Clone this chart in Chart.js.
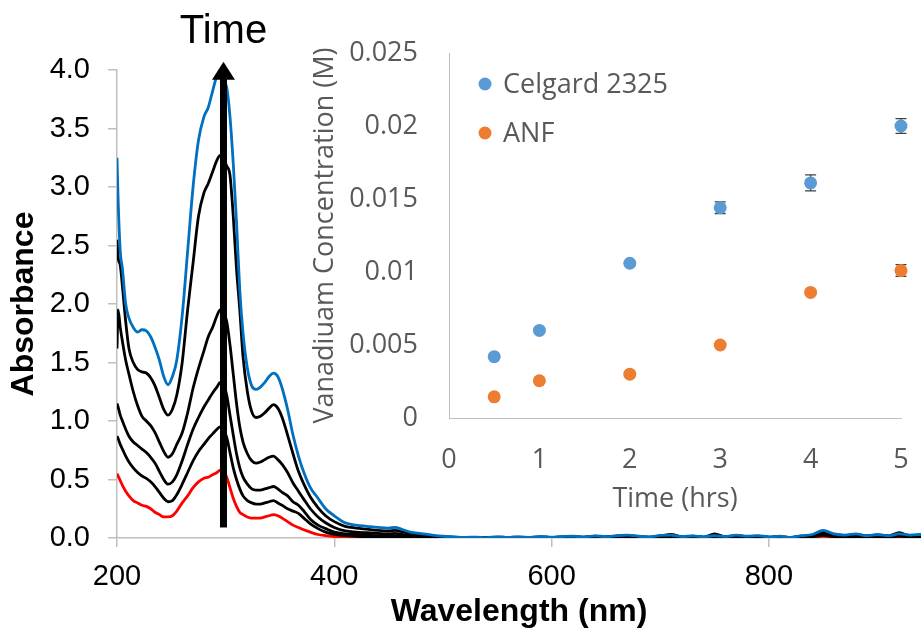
<!DOCTYPE html>
<html>
<head>
<meta charset="utf-8">
<script src="https://cdn.jsdelivr.net/npm/chart.js@4.4.1/dist/chart.umd.min.js"></script>
<style>
  html, body { margin: 0; padding: 0; background: #fff; }
  #wrap { position: relative; width: 921px; height: 634px; }
  #wrap canvas { position: absolute; left: 0; top: 0; }
</style>
</head>
<body>
<div id="wrap">
  <canvas id="spectra" width="921" height="634"></canvas>
  <canvas id="inset" width="921" height="634"></canvas>
</div>
<script>
// ---- main plot: UV-vis spectra ----
var wavelength = [200,201,203,205,208,211,215,219,223,227,231,235,239,243,247,251,255,260,265,270,275,280,284,288,292,295,298,301,304,307,310,313,316,320,324,328,332,336,340,344,348,352,357,362,367,372,378,385,392,400,410,420,430,440,450,456,462,470,480,490,500,
  510,520,530,540,550,560,570,580,590,600,610,620,630,640,650,660,670,680,690,700,710,720,730,740,750,760,770,780,790,800,810,820,830,840,850,860,870,880,890,900,910,920,930,940];

var absBlue = [3.25,2.9,2.45,2.3,2.0,1.88,1.8,1.76,1.78,1.77,1.72,1.63,1.52,1.38,1.31,1.38,1.52,1.9,2.45,3.0,3.4,3.6,3.68,3.82,3.95,3.97,3.92,3.85,3.6,3.2,2.7,2.12,1.75,1.45,1.3,1.27,1.29,1.33,1.38,1.41,1.38,1.28,1.1,0.88,0.7,0.56,0.43,0.34,0.25,0.19,0.13,0.11,0.1,0.09,0.085,0.09,0.075,0.05,0.038,0.025,0.015,
  0.01,0.005,0.008,0.004,0.01,0.006,0.01,0.005,0.012,0.008,0.012,0.015,0.01,0.018,0.012,0.02,0.025,0.015,0.01,0.022,0.025,0.012,0.018,0.01,0.02,0.012,0.025,0.015,0.02,0.01,0.015,0.005,0.02,0.03,0.065,0.035,0.025,0.035,0.02,0.03,0.02,0.035,0.025,0.03];

var absBlack1 = [2.55,2.4,2.33,2.15,1.85,1.62,1.5,1.44,1.42,1.41,1.37,1.3,1.2,1.1,1.05,1.1,1.22,1.5,1.95,2.35,2.75,2.95,3.03,3.13,3.23,3.27,3.24,3.18,3.1,2.75,2.3,1.95,1.55,1.25,1.08,1.03,1.04,1.07,1.11,1.14,1.11,1.03,0.88,0.72,0.57,0.46,0.35,0.26,0.19,0.14,0.1,0.085,0.075,0.065,0.06,0.065,0.055,0.04,0.03,0.018,0.01,
  0.008,0.004,0.006,0.003,0.008,0.005,0.008,0.004,0.01,0.006,0.01,0.012,0.008,0.015,0.01,0.016,0.02,0.012,0.008,0.018,0.03,0.01,0.015,0.008,0.035,0.01,0.02,0.012,0.016,0.008,0.012,0.004,0.016,0.025,0.05,0.03,0.02,0.03,0.018,0.025,0.018,0.045,0.02,0.028];

var absBlack2 = [1.62,1.95,1.8,1.68,1.52,1.4,1.25,1.13,1.04,1.0,0.96,0.9,0.82,0.74,0.69,0.72,0.8,0.9,1.07,1.28,1.45,1.6,1.72,1.8,1.9,1.95,1.93,1.85,1.65,1.4,1.15,0.95,0.82,0.72,0.66,0.64,0.65,0.67,0.69,0.7,0.67,0.63,0.56,0.47,0.4,0.33,0.25,0.18,0.13,0.09,0.06,0.05,0.045,0.04,0.035,0.04,0.03,0.02,0.015,0.01,0.005,
  0.006,0.003,0.005,0.002,0.006,0.004,0.006,0.003,0.008,0.005,0.008,0.01,0.006,0.012,0.008,0.013,0.016,0.01,0.006,0.014,0.02,0.008,0.012,0.006,0.022,0.008,0.016,0.01,0.013,0.006,0.01,0.003,0.013,0.02,0.04,0.024,0.016,0.024,0.014,0.02,0.014,0.03,0.016,0.022];

var absBlack3 = [1.15,1.12,1.05,1.0,0.93,0.87,0.82,0.79,0.76,0.73,0.69,0.64,0.57,0.5,0.46,0.48,0.54,0.66,0.8,0.93,1.03,1.12,1.18,1.24,1.29,1.33,1.31,1.22,1.05,0.88,0.72,0.6,0.52,0.46,0.42,0.41,0.41,0.42,0.43,0.44,0.42,0.39,0.36,0.31,0.28,0.23,0.16,0.11,0.08,0.05,0.035,0.03,0.025,0.02,0.02,0.02,0.015,0.01,0.008,0.005,0.003,
  0.004,0.002,0.004,0.002,0.004,0.003,0.004,0.002,0.006,0.004,0.006,0.008,0.005,0.009,0.006,0.01,0.012,0.008,0.005,0.01,0.014,0.006,0.009,0.005,0.016,0.006,0.012,0.008,0.01,0.005,0.008,0.002,0.01,0.015,0.03,0.018,0.012,0.018,0.01,0.015,0.01,0.022,0.012,0.016];

var absBlack4 = [0.87,0.85,0.8,0.76,0.7,0.65,0.6,0.56,0.53,0.51,0.48,0.44,0.39,0.34,0.31,0.32,0.37,0.46,0.56,0.66,0.74,0.8,0.85,0.89,0.93,0.95,0.93,0.86,0.73,0.6,0.5,0.42,0.36,0.32,0.3,0.29,0.29,0.3,0.31,0.32,0.3,0.28,0.25,0.23,0.21,0.17,0.12,0.08,0.05,0.03,0.02,0.015,0.012,0.01,0.01,0.01,0.008,0.005,0.004,0.003,0.002,
  0.003,0.001,0.003,0.001,0.003,0.002,0.003,0.001,0.004,0.003,0.004,0.006,0.004,0.007,0.004,0.008,0.009,0.006,0.004,0.008,0.01,0.004,0.007,0.004,0.012,0.004,0.009,0.006,0.008,0.004,0.006,0.001,0.008,0.011,0.022,0.013,0.009,0.013,0.008,0.011,0.008,0.016,0.009,0.012];

var absRed = [0.55,0.53,0.49,0.45,0.4,0.36,0.32,0.3,0.28,0.27,0.25,0.22,0.2,0.18,0.18,0.19,0.23,0.3,0.36,0.43,0.48,0.51,0.52,0.54,0.56,0.58,0.57,0.52,0.43,0.34,0.27,0.22,0.2,0.18,0.17,0.17,0.17,0.18,0.19,0.2,0.19,0.17,0.14,0.11,0.09,0.07,0.05,0.03,0.02,0.012,0.008,0.005,0.004,0.003,0.003,0.003,0.002,0.002,0.001,0.001,0,
  0.002,0.001,0.002,0.001,0.002,0.001,0.002,0.001,0.003,0.002,0.003,0.004,0.003,0.005,0.003,0.006,0.007,0.004,0.003,0.006,0.007,0.003,0.005,0.003,0.008,0.003,0.006,0.004,0.006,0.003,0.004,0.001,0.006,0.008,0.015,0.009,0.006,0.009,0.005,0.008,0.005,0.011,0.006,0.008];

var xTicks = [200, 400, 600, 800];
var arrowAt = 298;     // nm
var arrowFrom = 0.09;  // absorbance
var arrowTo = 4.07;

// ---- inset: vanadium crossover ----
var timeHrs = [0.5, 1, 2, 3, 4, 5];
var celgardConc = [0.0042, 0.0060, 0.0106, 0.0144, 0.0161, 0.0200];
var celgardErr = [0.0001, 0.0001, 0.0001, 0.0004, 0.00055, 0.0005];
var anfConc = [0.00145, 0.00255, 0.0030, 0.0050, 0.0086, 0.0101];
var anfErr = [0.0001, 0.0001, 0.0001, 0.0001, 0.0001, 0.0004];

var spectra = [absBlue, absBlack1, absBlack2, absBlack3, absBlack4, absRed];
var spectraColors = ["#0070C0", "#000000", "#000000", "#000000", "#000000", "#FF0000"];

function toPoints(xs, ys) {
  return xs.map(function (x, i) { return { x: x, y: ys[i] }; });
}

var mainFont = "'Liberation Sans', Arial, sans-serif";
var insetFont = "'Open Sans', 'Noto Sans', sans-serif";
var axisGray = "#bfbfbf";
var insetGray = "#595959";

var timeArrow = {
  id: "timeArrow",
  afterDatasetsDraw: function (chart) {
    var ctx = chart.ctx;
    var x = chart.scales.x.getPixelForValue(arrowAt);
    var yBase = chart.scales.y.getPixelForValue(arrowFrom);
    var yTip = chart.scales.y.getPixelForValue(arrowTo);
    ctx.save();
    ctx.fillStyle = "#000";
    ctx.fillRect(x - 3.5, yTip + 15, 7, yBase - yTip - 15);
    ctx.beginPath();
    ctx.moveTo(x, yTip);
    ctx.lineTo(x - 11.5, yTip + 18);
    ctx.lineTo(x + 11.5, yTip + 18);
    ctx.closePath();
    ctx.fill();
    ctx.font = "40px " + mainFont;
    ctx.textAlign = "center";
    ctx.textBaseline = "alphabetic";
    ctx.fillText("Time", x, 43);
    ctx.restore();
  }
};

var spectraChart = new Chart(document.getElementById("spectra"), {
  type: "line",
  data: {
    datasets: spectra.map(function (vals, i) {
      return {
        data: toPoints(wavelength, vals),
        borderColor: spectraColors[i],
        borderWidth: 2.8,
        pointRadius: 0,
        fill: false,
        cubicInterpolationMode: "monotone"
      };
    })
  },
  options: {
    responsive: false,
    animation: false,
    devicePixelRatio: 1,
    layout: { padding: { top: 70, right: 0, bottom: 0, left: 0 } },
    plugins: { legend: { display: false }, tooltip: { enabled: false } },
    scales: {
      x: {
        type: "linear",
        min: 200,
        max: 940,
        afterBuildTicks: function (s) { s.ticks = xTicks.map(function (v) { return { value: v }; }); },
        afterFit: function (s) { s.height = 96; },
        grid: { display: true, drawOnChartArea: false, drawTicks: true, tickLength: 9, color: axisGray, lineWidth: 1.5 },
        border: { color: axisGray, width: 1.5 },
        ticks: { color: "#000", font: { family: mainFont, size: 29 }, padding: 13, maxRotation: 0 },
        title: { display: true, text: "Wavelength (nm)", color: "#000", font: { family: mainFont, size: 32, weight: "bold" }, padding: { top: 0, bottom: 3 } }
      },
      y: {
        min: 0,
        max: 4,
        afterFit: function (s) { s.width = 117; },
        grid: { display: true, drawOnChartArea: false, drawTicks: true, tickLength: 9, color: axisGray, lineWidth: 1.5 },
        border: { color: axisGray, width: 1.5 },
        ticks: {
          stepSize: 0.5,
          color: "#000",
          font: { family: mainFont, size: 29 },
          padding: 18,
          callback: function (v) { return v.toFixed(1); }
        },
        title: { display: true, text: "Absorbance", color: "#000", font: { family: mainFont, size: 32, weight: "bold" }, padding: { top: 5, bottom: 0 } }
      }
    }
  },
  plugins: [timeArrow]
});

var insetErrors = [celgardErr, anfErr];

var errorBars = {
  id: "errorBars",
  beforeDatasetsDraw: function (chart) {
    var ctx = chart.ctx;
    var xs = chart.scales.x, ys = chart.scales.y;
    ctx.save();
    ctx.strokeStyle = "#404040";
    ctx.lineWidth = 1.3;
    chart.data.datasets.forEach(function (ds, d) {
      ds.data.forEach(function (p, i) {
        var e = insetErrors[d][i];
        var x = xs.getPixelForValue(p.x);
        var y1 = ys.getPixelForValue(p.y - e);
        var y2 = ys.getPixelForValue(p.y + e);
        ctx.beginPath();
        ctx.moveTo(x, y1); ctx.lineTo(x, y2);
        ctx.moveTo(x - 5.5, y1); ctx.lineTo(x + 5.5, y1);
        ctx.moveTo(x - 5.5, y2); ctx.lineTo(x + 5.5, y2);
        ctx.stroke();
      });
    });
    ctx.restore();
  }
};

var insetLegend = {
  id: "insetLegend",
  afterDraw: function (chart) {
    var ctx = chart.ctx;
    var a = chart.chartArea;
    ctx.save();
    ctx.font = "27px " + insetFont;
    ctx.textAlign = "left";
    ctx.textBaseline = "middle";
    chart.data.datasets.forEach(function (ds, i) {
      var y = a.top + 31 + i * 49;
      ctx.fillStyle = ds.backgroundColor;
      ctx.beginPath();
      ctx.arc(a.left + 36, y, 6.5, 0, Math.PI * 2);
      ctx.fill();
      ctx.fillStyle = insetGray;
      ctx.fillText(ds.label, a.left + 54, y + 1);
    });
    ctx.restore();
  }
};

var insetChart = new Chart(document.getElementById("inset"), {
  type: "scatter",
  data: {
    datasets: [
      { label: "Celgard 2325", data: toPoints(timeHrs, celgardConc), backgroundColor: "#5B9BD5", borderWidth: 0, pointRadius: 6.5, clip: false },
      { label: "ANF", data: toPoints(timeHrs, anfConc), backgroundColor: "#ED7D31", borderWidth: 0, pointRadius: 6.5, clip: false }
    ]
  },
  options: {
    responsive: false,
    animation: false,
    devicePixelRatio: 1,
    layout: { padding: { top: 53, right: 20, bottom: 100, left: 300 } },
    plugins: { legend: { display: false }, tooltip: { enabled: false } },
    scales: {
      x: {
        type: "linear",
        min: 0,
        max: 5,
        afterFit: function (s) { s.height = 116; s.paddingLeft = 0; s.paddingRight = 0; },
        grid: { display: true, drawOnChartArea: false, drawTicks: false },
        border: { color: axisGray, width: 1 },
        ticks: { stepSize: 1, color: insetGray, font: { family: insetFont, size: 27 }, padding: 26, maxRotation: 0 },
        title: { display: true, text: "Time (hrs)", color: insetGray, font: { family: insetFont, size: 27 }, padding: { top: 0, bottom: 18 } }
      },
      y: {
        min: 0,
        max: 0.025,
        afterFit: function (s) { s.width = 149; },
        grid: { display: true, drawOnChartArea: false, drawTicks: false },
        border: { color: axisGray, width: 1 },
        ticks: {
          stepSize: 0.005,
          color: insetGray,
          font: { family: insetFont, size: 27 },
          padding: 31,
          callback: function (v) { return String(+v.toFixed(3)); }
        },
        title: { display: true, text: "Vanadiuam Concentration (M)", color: insetGray, font: { family: insetFont, size: 27 }, padding: { top: 9, bottom: 0 } }
      }
    }
  },
  plugins: [errorBars, insetLegend]
});
</script>
</body>
</html>
